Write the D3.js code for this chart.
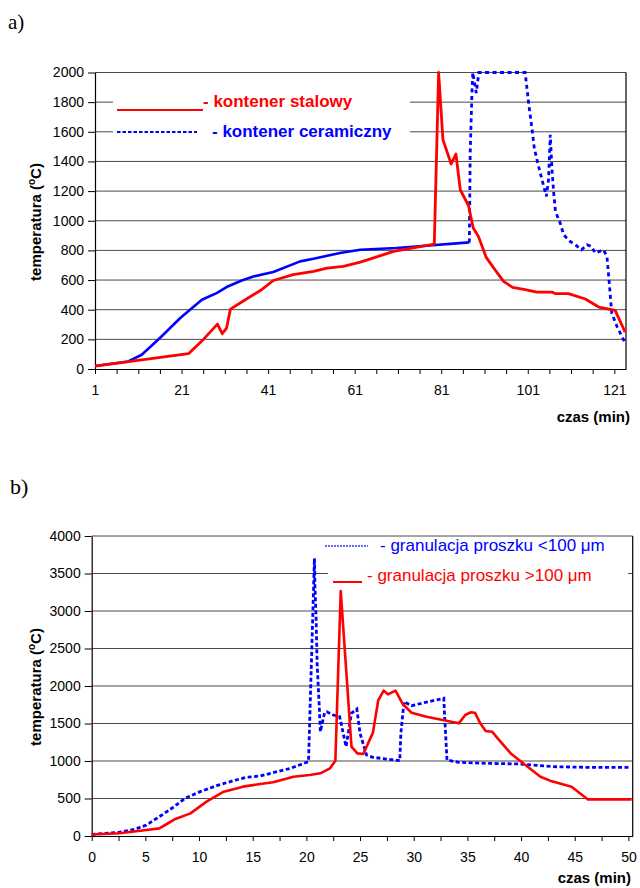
<!DOCTYPE html>
<html>
<head>
<meta charset="utf-8">
<script src="https://cdn.jsdelivr.net/npm/d3@7"></script>
<style>
  html, body { margin: 0; padding: 0; background: #fff; }
  svg { display: block; font-family: Arial, "Liberation Sans", sans-serif; }
</style>
</head>
<body>
<svg id="chart" width="640" height="888"></svg>
<script>
// ---------------- Chart a) data ----------------
const steelTime = [1, 22.6, 26, 29.3, 30.4, 31.4, 32.3, 36, 39.5, 42.2, 46.8, 51.5, 54.6, 58.4, 62.3, 70, 79.4,
  80.4, 81.4, 83.3, 84.4, 85.4, 87.3, 88.4, 89.6, 91.4, 93.4, 95.4, 97.5, 100.4, 103.1, 106.6, 107.4, 110.4,
  114.3, 117.4, 121.2, 123.5];
const steelTemp = [20, 103, 198, 303, 238, 276, 404, 472, 535, 597, 636, 658, 681, 692, 721, 793, 843,
  2000, 1547, 1383, 1450, 1209, 1103, 951, 894, 753, 670, 591, 551, 535, 519, 519, 508, 508,
  472, 418, 395, 249];

const ceramicSolidTime = [1, 8.7, 11.8, 16, 20.7, 25.7, 29.1, 31.4, 34.9, 37.6, 42.2, 48.4, 51.5, 57.6, 62.3, 70.7, 87.5];
const ceramicSolidTemp = [20, 51, 96, 209, 344, 467, 512, 553, 597, 624, 654, 726, 744, 782, 804, 816, 854];

const ceramicDashTime = [87.5, 87.7, 88.1, 88.3, 89.1, 89.7, 100.4, 101.2, 102, 102.5, 103.5, 104.7, 105.3, 105.8,
  106.2, 106.6, 107, 107.4, 108.5, 109.3, 110.8, 112, 113.4, 114.7, 115.7, 116.6, 118.5, 119.3, 119.9, 120.4,
  121.6, 123.5];
const ceramicDashTemp = [854, 1457, 1862, 2000, 1862, 2000, 2000, 1794, 1614, 1492, 1366, 1231, 1164, 1276,
  1579, 1343, 1186, 1062, 984, 905, 860, 838, 804, 838, 827, 782, 804, 759, 557, 378,
  288, 175];

const ticksA_y = [0, 200, 400, 600, 800, 1000, 1200, 1400, 1600, 1800, 2000];
const labelsA_x = [1, 21, 41, 61, 81, 101, 121];
const legendA = ["- kontener stalowy", "- kontener ceramiczny"];

// ---------------- Chart b) data ----------------
const fineTime = [0, 2.5, 4.0, 5.1, 6.4, 7.6, 8.7, 10.1, 11.65, 13.2, 14.4, 15.7, 16.9, 18.5, 20.2,
  20.75, 20.8, 20.9, 21.0, 21.2, 21.3, 21.7, 21.9, 22.5, 23.1, 23.4, 23.7, 24.2, 24.7, 25.0, 25.6, 26.2,
  28.7, 28.8, 29.1, 29.8, 31.1, 32.8, 32.9, 33.1, 34.2, 36.8, 39.9, 43.0, 46.1, 50];
const fineTemp = [20, 49, 89, 147, 267, 383, 503, 591, 671, 738, 782, 800, 844, 902, 991,
  3702, 3324, 2924, 2302, 1724, 1391, 1644, 1657, 1613, 1591, 1391, 1191, 1636, 1693, 1369, 1080, 1049,
  1004, 1369, 1791, 1737, 1782, 1836, 1547, 1013, 982, 969, 960, 924, 916, 916];

const coarseTime = [0, 2.6, 5.1, 6.3, 7.0, 7.8, 9.2, 10.7, 12.3, 14.1, 15.7, 16.9, 18.8, 20.3, 21.3, 22.2, 22.7,
  23.2, 24.2, 24.75, 25.3, 26.2, 26.7, 27.2, 27.6, 28.3, 29.0, 29.8, 31.2, 34.2, 34.8, 35.3, 35.7, 36.2,
  36.7, 37.3, 38.0, 39.1, 40.2, 41.8, 42.7, 44.7, 46.2, 50.3];
const coarseTemp = [20, 36, 80, 102, 160, 227, 302, 458, 591, 658, 693, 716, 791, 813, 836, 902, 1004,
  3265, 1191, 1102, 1093, 1378, 1813, 1938, 1889, 1938, 1756, 1644, 1591, 1502, 1613, 1649, 1644, 1502,
  1400, 1391, 1271, 1093, 969, 791, 738, 658, 489, 489];

const ticksB_y = [0, 500, 1000, 1500, 2000, 2500, 3000, 3500, 4000];
const ticksB_x = d3.range(0, 50.01, 2.5);
const labelsB_x = [0, 5, 10, 15, 20, 25, 30, 35, 40, 45, 50];
const legendB = ["- granulacja proszku <100 \u03BCm", "- granulacja proszku >100 \u03BCm"];

// ---------------- drawing ----------------
const svg = d3.select("#chart");
const RED = "#ff0000", BLUE = "#0000ff", GRID = "#4a4a4a";
const FONT = "Arial, 'Liberation Sans', sans-serif";

function yLabel(g, x, y) {
  const t = g.append("text")
    .attr("transform", `translate(${x},${y}) rotate(-90)`)
    .attr("text-anchor", "middle")
    .attr("font-size", 15).attr("font-weight", "bold").attr("fill", "#000");
  t.append("tspan").text("temperatura (");
  t.append("tspan").attr("dy", -6).attr("font-size", 10).text("o");
  t.append("tspan").attr("dy", 6).text("C)");
}

function drawFrame(g, x, y, yTicks, xTicks, xLabels) {
  const [x0, x1] = x.range();
  const [yb, yt] = y.range();
  g.append("g").selectAll("line").data(yTicks.filter(d => d > 0))
    .join("line")
    .attr("x1", x0).attr("x2", x1)
    .attr("y1", d => y(d)).attr("y2", d => y(d))
    .attr("stroke", GRID).attr("stroke-width", 1);
  g.append("line").attr("x1", x1).attr("x2", x1).attr("y1", yt).attr("y2", yb)
    .attr("stroke", "#000").attr("stroke-width", 1.2);
  const ya = g.append("g").attr("transform", `translate(${x0},0)`)
    .call(d3.axisLeft(y).tickValues(yTicks).tickSize(7).tickSizeOuter(0).tickPadding(4)
      .tickFormat(d3.format("d")));
  ya.select(".domain").attr("stroke", "#000").attr("stroke-width", 1.2);
  ya.selectAll("text").attr("font-size", 14).attr("font-family", FONT).attr("fill", "#000");
  const xa = g.append("g").attr("transform", `translate(0,${yb})`)
    .call(d3.axisBottom(x).tickValues(xTicks).tickSize(5).tickSizeOuter(0).tickPadding(11)
      .tickFormat(d => xLabels.includes(d) ? d3.format("d")(d) : ""));
  xa.select(".domain").attr("stroke", "#000").attr("stroke-width", 1.2);
  xa.selectAll("text").attr("font-size", 14).attr("font-family", FONT).attr("fill", "#000");
}

// ===== Chart a =====
const gA = svg.append("g");
gA.append("text").attr("x", 8).attr("y", 29).attr("font-family", "'Liberation Serif', 'Times New Roman', serif")
  .attr("font-size", 21).text("a)");

const xA = d3.scaleLinear().domain([1, 123.7]).range([95, 626]);
const yA = d3.scaleLinear().domain([0, 2000]).range([369, 72.5]);
const xTicksA = d3.range(1, 123, 5);
drawFrame(gA, xA, yA, ticksA_y, xTicksA, labelsA_x);

gA.append("rect").attr("x", 113).attr("y", 90).attr("width", 297).attr("height", 52).attr("fill", "#fff");
gA.append("line").attr("x1", 117).attr("x2", 203).attr("y1", 110).attr("y2", 110)
  .attr("stroke", RED).attr("stroke-width", 2);
gA.append("text").attr("x", 203).attr("y", 107).attr("fill", RED).attr("font-weight", "bold")
  .attr("font-size", 17).text(legendA[0]);
gA.append("line").attr("x1", 117).attr("x2", 197).attr("y1", 132).attr("y2", 132)
  .attr("stroke", BLUE).attr("stroke-width", 2).attr("stroke-dasharray", "3.5,2");
gA.append("text").attr("x", 212).attr("y", 137).attr("fill", BLUE).attr("font-weight", "bold")
  .attr("font-size", 17).text(legendA[1]);

const lineA = d3.line().x(d => xA(d[0])).y(d => yA(d[1]));
gA.append("path").datum(d3.zip(ceramicSolidTime, ceramicSolidTemp)).attr("d", lineA)
  .attr("fill", "none").attr("stroke", BLUE).attr("stroke-width", 2.6).attr("stroke-linejoin", "round");
gA.append("path").datum(d3.zip(ceramicDashTime, ceramicDashTemp)).attr("d", lineA)
  .attr("fill", "none").attr("stroke", BLUE).attr("stroke-width", 2.8).attr("stroke-dasharray", "4,3.5");
gA.append("path").datum(d3.zip(steelTime, steelTemp)).attr("d", lineA)
  .attr("fill", "none").attr("stroke", RED).attr("stroke-width", 2.8).attr("stroke-linejoin", "round");

yLabel(gA, 41, 222);
gA.append("text").attr("x", 630).attr("y", 422).attr("text-anchor", "end")
  .attr("font-size", 15).attr("font-weight", "bold").text("czas (min)");

// ===== Chart b =====
const gB = svg.append("g");
gB.append("text").attr("x", 10).attr("y", 494).attr("font-family", "'Liberation Serif', 'Times New Roman', serif")
  .attr("font-size", 22).text("b)");

const xB = d3.scaleLinear().domain([0, 50.4]).range([91.7, 632.7]);
const yB = d3.scaleLinear().domain([0, 4000]).range([836, 536]);
drawFrame(gB, xB, yB, ticksB_y, ticksB_x, labelsB_x);

gB.append("rect").attr("x", 328).attr("y", 538).attr("width", 300).attr("height", 52).attr("fill", "#fff");
gB.append("line").attr("x1", 325).attr("x2", 368).attr("y1", 546).attr("y2", 546)
  .attr("stroke", BLUE).attr("stroke-width", 1.3).attr("stroke-dasharray", "2,1").attr("opacity", 0.8);
gB.append("text").attr("x", 380).attr("y", 551).attr("fill", BLUE)
  .attr("font-size", 17).text(legendB[0]);
gB.append("line").attr("x1", 333).attr("x2", 362).attr("y1", 582).attr("y2", 582)
  .attr("stroke", RED).attr("stroke-width", 2);
gB.append("text").attr("x", 367).attr("y", 581).attr("fill", RED)
  .attr("font-size", 17).text(legendB[1]);

const lineB = d3.line().x(d => xB(d[0])).y(d => yB(d[1]));
gB.append("path").datum(d3.zip(fineTime, fineTemp)).attr("d", lineB)
  .attr("fill", "none").attr("stroke", BLUE).attr("stroke-width", 2.8).attr("stroke-dasharray", "4,2.5");
gB.append("path").datum(d3.zip(coarseTime, coarseTemp)).attr("d", lineB)
  .attr("fill", "none").attr("stroke", RED).attr("stroke-width", 2.6).attr("stroke-linejoin", "round");

yLabel(gB, 41, 687);
gB.append("text").attr("x", 631).attr("y", 883).attr("text-anchor", "end")
  .attr("font-size", 15).attr("font-weight", "bold").text("czas (min)");
</script>
</body>
</html>
